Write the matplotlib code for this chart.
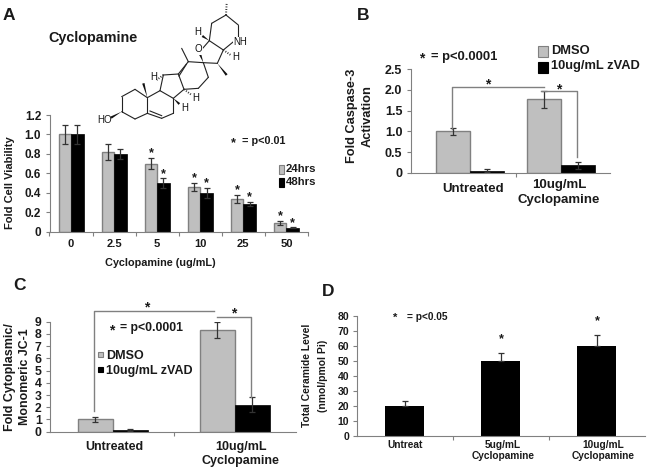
import matplotlib
matplotlib.use("Agg")
import matplotlib.pyplot as plt
from matplotlib.patches import Rectangle, Polygon
from matplotlib.transforms import ScaledTranslation

W, H = 649, 471
GREY = "#bfbfbf"
AXIS = "#808080"
TXT = "#1a1a1a"

plt.rcParams["font.family"] = ["Liberation Sans", "DejaVu Sans"]
plt.rcParams["font.weight"] = "bold"

# panel A
doses = ["0", "2.5", "5", "10", "25", "50"]
a_24 = [1.0, 0.82, 0.70, 0.46, 0.34, 0.09]
a_48 = [1.0, 0.80, 0.50, 0.40, 0.285, 0.04]
a_24_err = [0.095, 0.08, 0.06, 0.045, 0.04, 0.022]
a_48_err = [0.10, 0.05, 0.05, 0.05, 0.025, 0.005]
a_24_star = [False, False, True, True, True, True]
a_48_star = [False, False, True, True, True, True]
a_yticks = [0, 0.2, 0.4, 0.6, 0.8, 1.0, 1.2]
a_ylabels = ["0", "0.2", "0.4", "0.6", "0.8", "1.0", "1.2"]

# panel B
b_cats = ["Untreated", "10ug/mL\nCyclopamine"]
b_dmso = [1.0, 1.77]
b_zvad = [0.05, 0.18]
b_dmso_err = [0.09, 0.2]
b_zvad_err = [0.04, 0.09]
b_yticks = [0, 0.5, 1.0, 1.5, 2.0, 2.5]
b_ylabels = ["0", "0.5", "1.0", "1.5", "2.0", "2.5"]

# panel C
c_cats = ["Untreated", "10ug/mL\nCyclopamine"]
c_dmso = [1.0, 8.3]
c_zvad = [0.15, 2.2]
c_dmso_err = [0.18, 0.65]
c_zvad_err = [0.07, 0.6]
c_yticks = [0, 1, 2, 3, 4, 5, 6, 7, 8, 9]

# panel D
d_cats = ["Untreat", "5ug/mL\nCyclopamine", "10ug/mL\nCyclopamine"]
d_vals = [20, 50, 60]
d_err = [3, 5.5, 7.5]
d_yticks = [0, 10, 20, 30, 40, 50, 60, 70, 80]

# cyclopamine skeleton
mol_pts = {
    "a1": (35, 335), "a2": (35, 290), "a3": (75, 268), "a4": (112, 293),
    "a5": (112, 340), "a6": (75, 357), "b1": (150, 272), "b2": (190, 295),
    "b3": (190, 340), "b4": (155, 355), "c1": (160, 225), "c2": (205, 222),
    "c3": (222, 268), "d1": (235, 185), "d2": (280, 188), "d3": (295, 232),
    "d4": (265, 265), "e1": (298, 122), "e2": (340, 150), "e3": (322, 190),
    "f1": (305, 70), "f2": (348, 45), "f3": (385, 75), "n": (385, 113),
    "o": (265, 160), "me": (215, 145),
}
mol_bonds = [
    ("a1", "a2"), ("a2", "a3"), ("a3", "a4"), ("a4", "a5"), ("a5", "a6"),
    ("a6", "a1"), ("a4", "b1"), ("b1", "b2"), ("b2", "b3"), ("b3", "b4"),
    ("b4", "a5"), ("b1", "c1"), ("c1", "c2"), ("c2", "c3"), ("c3", "b2"),
    ("c2", "d1"), ("d1", "d2"), ("d2", "d3"), ("d3", "d4"), ("d4", "c3"),
    ("d1", "me"), ("d2", "e3"), ("e3", "e2"), ("e2", "e1"), ("e1", "o"),
    ("e1", "f1"), ("f1", "f2"), ("f2", "f3"), ("f3", "n"), ("n", "e2"),
]
mol_double = [((120, 333), (155, 347)), ((207, 228), (229, 193))]
mol_wedges = [
    ((35, 335), (3, 353)), ((112, 293), (100, 250)), ((190, 295), (208, 312)),
    ((322, 190), (350, 225)), ((280, 188), (270, 162)), ((298, 122), (277, 108)),
]
mol_hash = [
    ((348, 45), (350, 10)), ((160, 225), (140, 240)), ((222, 268), (245, 285)),
    ((340, 150), (362, 165)),
]
mol_labels = [("H", 262, 97), ("NH", 392, 127), ("O", 265, 148), ("H", 377, 171),
              ("H", 132, 231), ("H", 258, 293), ("H", 225, 325)]

fig = plt.figure(figsize=(W / 100, H / 100), dpi=100)


def make_ax(left, right, top, bottom):
    return fig.add_axes([left / W, 1 - bottom / H, (right - left) / W, (bottom - top) / H])


def style(ax, yticks, ylabels, size, boundaries, cats, pad=6):
    for s in ["top", "right"]:
        ax.spines[s].set_visible(False)
    for s in ["left", "bottom"]:
        ax.spines[s].set_color(AXIS)
    ax.set_yticks(yticks, labels=ylabels)
    ax.tick_params(axis="y", length=3, color=AXIS, labelsize=size, pad=3, labelcolor=TXT)
    ax.set_xticks(boundaries, labels=[""] * len(boundaries))
    ax.tick_params(axis="x", length=3, color=AXIS)
    ax.set_xticks(range(len(cats)), labels=cats, minor=True)
    ax.tick_params(axis="x", which="minor", length=0, pad=pad, labelcolor=TXT)


def shift_labels(ax, shifts):
    # small per label nudges in pixels
    for lab, (dx, dy) in zip(ax.get_xticklabels(minor=True), shifts):
        lab.set_transform(lab.get_transform() + ScaledTranslation(dx * 0.72 / 72, -dy * 0.72 / 72, fig.dpi_scale_trans))


def two_bars(ax, first, second, e1, e2, width):
    xs = list(range(len(first)))
    x1 = [x - width / 2 for x in xs]
    x2 = [x + width / 2 for x in xs]
    ebar = dict(ecolor="#333333", elinewidth=0.9, capsize=2, capthick=0.9)
    ax.bar(x1, first, width, color=GREY, edgecolor=AXIS, linewidth=1, yerr=e1, error_kw=ebar)
    ax.bar(x2, second, width, color="black", edgecolor="black", linewidth=0.5, yerr=e2, error_kw=ebar)
    return x1, x2


# A
ax_a = make_ax(49.5, 308, 115, 231.7)
x1, x2 = two_bars(ax_a, a_24, a_48, a_24_err, a_48_err, 0.29)
ax_a.set_xlim(-0.5, 5.5)
ax_a.set_ylim(0, 1.2)
style(ax_a, a_yticks, a_ylabels, 8.5, [i - 0.5 for i in range(7)], doses, pad=5)
for lab in ax_a.get_xticklabels(minor=True):
    lab.set_fontsize(8)
for x, v, e, s in zip(x1, a_24, a_24_err, a_24_star):
    if s:
        ax_a.text(x, v + e + 0.045, "*", ha="center", va="center", fontsize=9, color=TXT)
for x, v, e, s in zip(x2, a_48, a_48_err, a_48_star):
    if s:
        ax_a.text(x, v + e + 0.045, "*", ha="center", va="center", fontsize=9, color=TXT)

# B
ax_b = make_ax(410.7, 610, 69.3, 172.7)
two_bars(ax_b, b_dmso, b_zvad, b_dmso_err, b_zvad_err, 0.378)
ax_b.set_xlim(-0.654, 1.54)
ax_b.set_ylim(0, 2.5)
style(ax_b, b_yticks, b_ylabels, 9, [0.5], b_cats, pad=4.5)
for lab in ax_b.get_xticklabels(minor=True):
    lab.set_fontsize(9.5)
    lab.set_linespacing(1.35)
shift_labels(ax_b, [(3, 4), (-2, 0)])

# C
ax_c = make_ax(50, 296, 321.7, 431.7)
two_bars(ax_c, c_dmso, c_zvad, c_dmso_err, c_zvad_err, 0.287)
ax_c.set_xlim(-0.514, 1.5)
ax_c.set_ylim(0, 9)
style(ax_c, c_yticks, [str(v) for v in c_yticks], 8.8, [0.5], c_cats, pad=6.5)
for lab in ax_c.get_xticklabels(minor=True):
    lab.set_fontsize(9)
    lab.set_linespacing(1.3)
shift_labels(ax_c, [(2, 0), (6, 0)])

# D
ax_d = make_ax(357.3, 645, 316, 435.7)
ax_d.bar(range(3), d_vals, 0.406, color="black", yerr=[[0, 0, 0], d_err],
         error_kw=dict(ecolor="#333333", elinewidth=0.9, capsize=2, capthick=0.9))
ax_d.set_xlim(-0.495, 2.5)
ax_d.set_ylim(0, 80)
style(ax_d, d_yticks, [str(v) for v in d_yticks], 7.5, [0.5, 1.5], d_cats, pad=3)
for lab in ax_d.get_xticklabels(minor=True):
    lab.set_fontsize(7.3)
shift_labels(ax_d, [(0, 0), (2, 0), (6, 0)])
for x, v, e in zip([1, 2], d_vals[1:], d_err[1:]):
    ax_d.text(x, v + e + 9, "*", ha="center", va="center", fontsize=9, color=TXT)

# overlay in picture pixels for the notes, brackets and molecule
ov = fig.add_axes([0, 0, 1, 1], zorder=5)
ov.set_xlim(0, W)
ov.set_ylim(H, 0)
ov.axis("off")


def note(x, y, s, size=9, ha="left", rot=0, weight="bold"):
    ov.text(x, y, s, fontsize=size, ha=ha, va="center", rotation=rot, color=TXT, fontweight=weight)


for letter, x, y in [("A", 9, 15), ("B", 363, 16), ("C", 20, 285), ("D", 328, 292)]:
    note(x, y, letter, 12.5, "center")
note(48, 38, "Cyclopamine", 10.4)

note(160, 263, "Cyclopamine (ug/mL)", 7.8, "center")
note(10, 183, "Fold Cell Viability", 8, "center", 90)
note(233, 143, "*", 9, "center")
note(242, 141, "= p<0.01", 7.8)
for y0, col, lab in [(165, GREY, "24hrs"), (178, "black", "48hrs")]:
    ov.add_patch(Rectangle((279, y0), 5, 8.5, fc=col, ec=AXIS if col == GREY else "black", lw=0.8))
    note(286, y0 + 4, lab, 8.2)

note(352, 116, "Fold Caspase-3", 9.2, "center", 90)
note(368, 116, "Activation", 9.3, "center", 90)
note(422, 58, "*", 10, "center")
note(431, 57, "= p<0.0001", 9.4)
for y0, col, lab, ty in [(46, GREY, "DMSO", 51), (62, "black", "10ug/mL zVAD", 66)]:
    ov.add_patch(Rectangle((538, y0), 10, 10.5, fc=col, ec=AXIS if col == GREY else "black", lw=0.8))
    note(551, ty, lab, 9.3)
ov.plot([451.7, 451.7, 544], [129, 86.7, 86.7], color=AXIS, lw=1)
ov.plot([541, 576.7, 576.7], [90.7, 90.7, 157], color=AXIS, lw=1)
note(488, 84, "*", 10, "center")
note(559, 89, "*", 10, "center")

note(10, 377, "Fold Cytoplasmic/", 9, "center", 90)
note(25, 377, "Monomeric JC-1", 8.9, "center", 90)
note(112, 330, "*", 10, "center")
note(120, 328, "= p<0.0001", 8.8)
for y0, col, lab, ty in [(352, GREY, "DMSO", 356), (367, "black", "10ug/mL zVAD", 371)]:
    ov.add_patch(Rectangle((98, y0), 5, 5, fc=col, ec=AXIS if col == GREY else "black", lw=0.8))
    note(106, ty, lab, 9)
ov.plot([94, 94, 214], [411, 310.7, 310.7], color=AXIS, lw=1)
ov.plot([217, 251, 251], [316.7, 316.7, 396.7], color=AXIS, lw=1)
note(147, 307, "*", 10, "center")
note(234, 313, "*", 10, "center")

note(307, 375.5, "Total Ceramide Level", 7.4, "center", 90)
note(323, 376, "(nmol/pmol Pi)", 7.5, "center", 90)
note(395, 318, "*", 8, "center")
note(407, 317, "= p<0.05", 7.3)


def mp(p):
    return 110 + p[0] / 3, p[1] / 3


for a, b in mol_bonds:
    pa, pb = mp(mol_pts[a]), mp(mol_pts[b])
    ov.plot([pa[0], pb[0]], [pa[1], pb[1]], color="#222222", lw=0.8, solid_capstyle="round")
for a, b in mol_double:
    pa, pb = mp(a), mp(b)
    ov.plot([pa[0], pb[0]], [pa[1], pb[1]], color="#222222", lw=0.8)
for a, b in mol_wedges:
    pa, pb = mp(a), mp(b)
    dx, dy = pb[0] - pa[0], pb[1] - pa[1]
    n = (dx ** 2 + dy ** 2) ** 0.5
    nx, ny = -dy / n * 1.2, dx / n * 1.2
    ov.add_patch(Polygon([pa, (pb[0] + nx, pb[1] + ny), (pb[0] - nx, pb[1] - ny)], fc="#111111", ec="none"))
for a, b in mol_hash:
    pa, pb = mp(a), mp(b)
    ov.plot([pa[0], pb[0]], [pa[1], pb[1]], color="#333333", lw=1.4, ls=(0, (0.5, 0.8)))
for s, x, y in mol_labels:
    px, py = mp((x, y))
    ov.text(px, py, s, fontsize=7, ha="center", va="center", color="#111111", fontweight="normal",
            bbox=dict(fc="white", ec="none", pad=0.3) if s in ("O", "NH") else None)
note(105, 120, "HO", 7, "center", weight="normal")

fig.savefig("out.png", dpi=100)
